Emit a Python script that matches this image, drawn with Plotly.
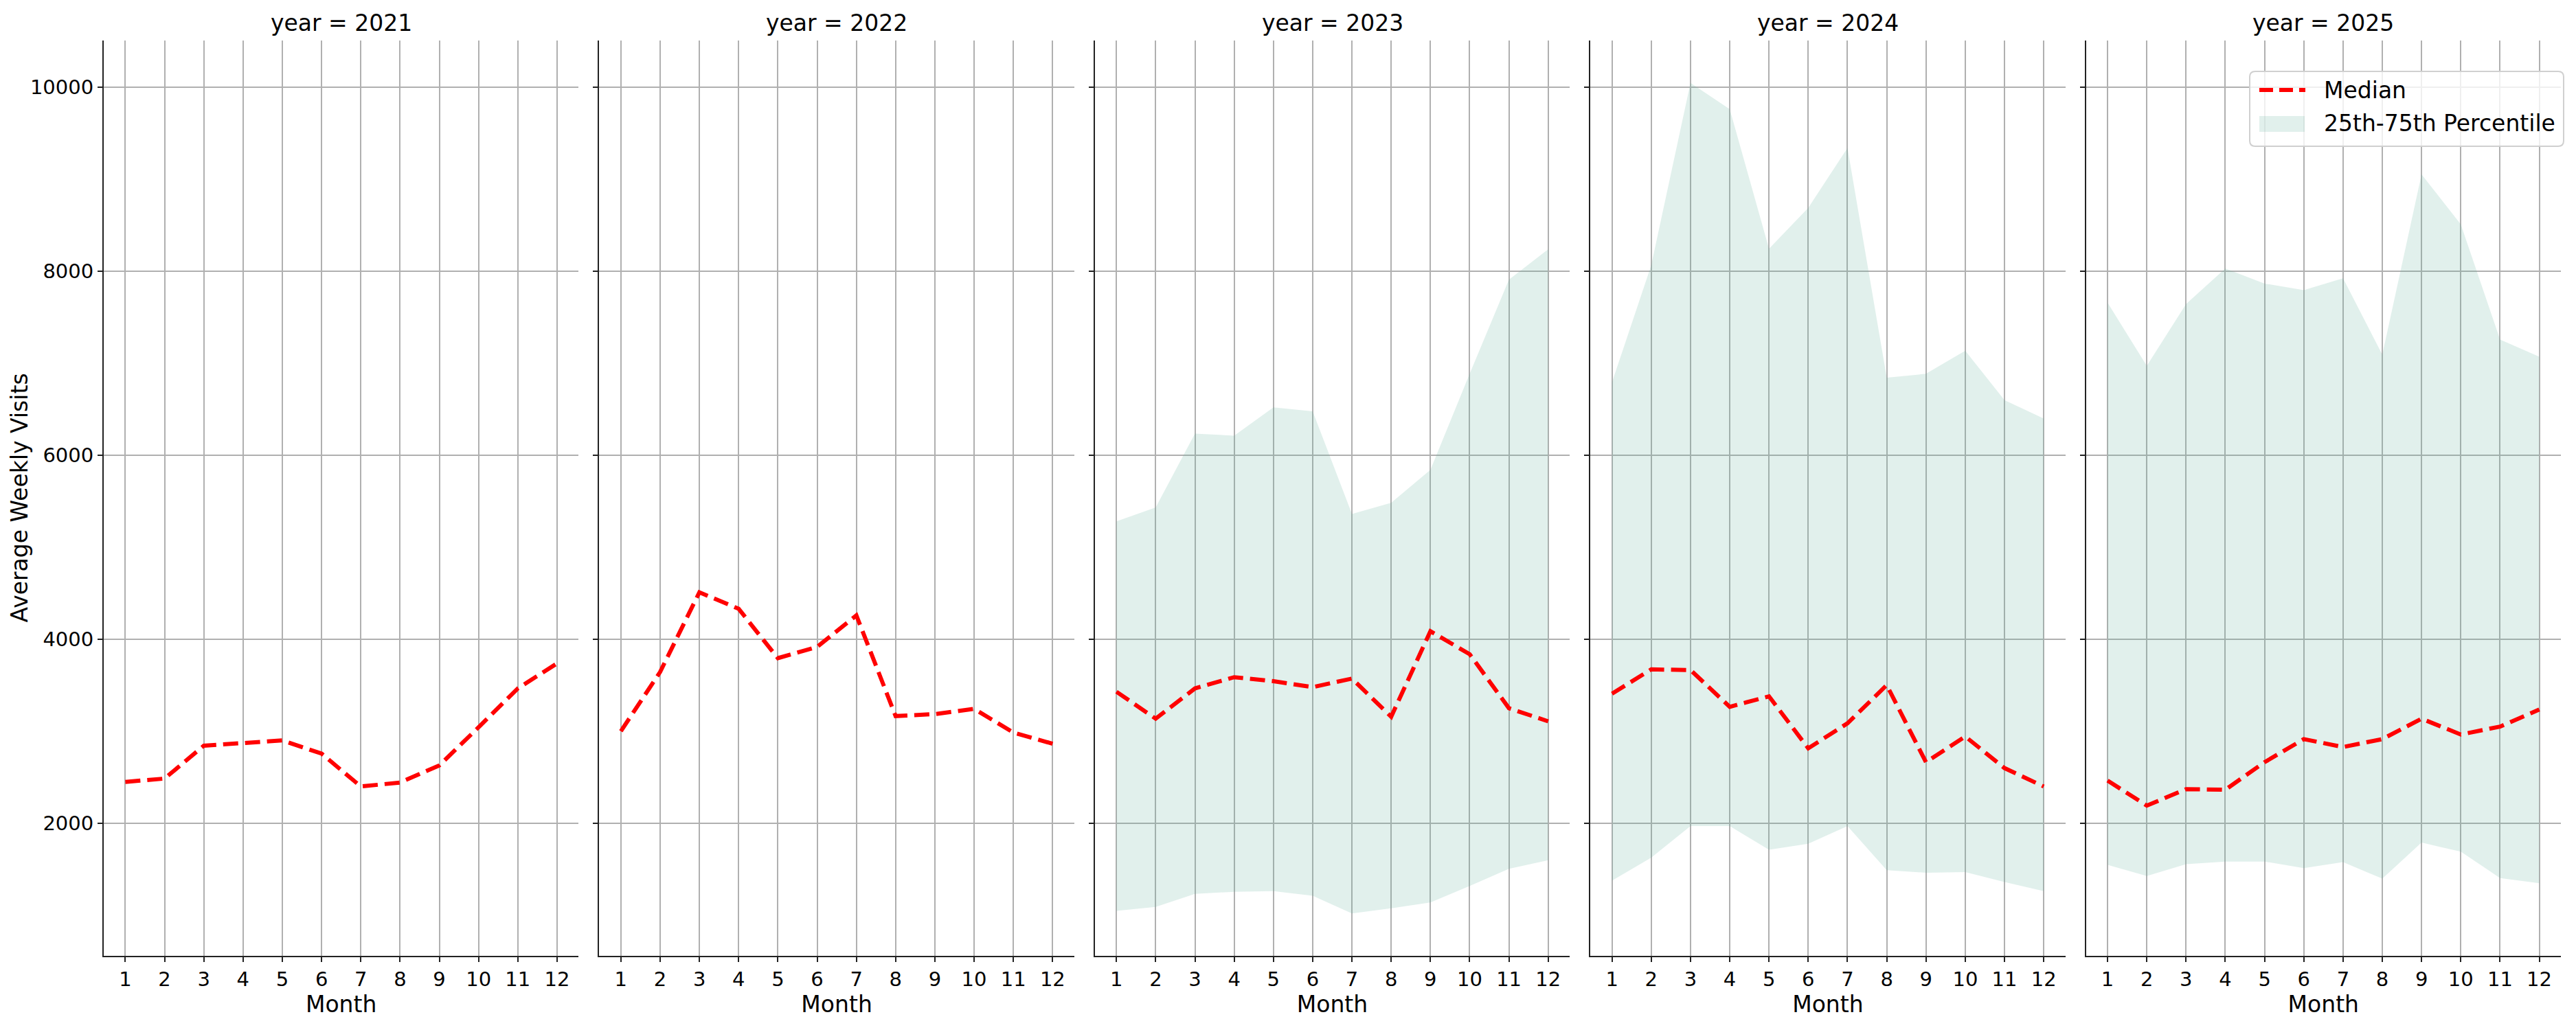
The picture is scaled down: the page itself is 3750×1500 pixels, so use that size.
import plotly.graph_objects as go
from plotly.subplots import make_subplots

# Monthly values
months = list(range(1, 13))
years = [2021, 2022, 2023, 2024, 2025]

median_2021 = [2451, 2487, 2844, 2873, 2902, 2758, 2401, 2444, 2630, 3045, 3467, 3739]
median_2022 = [3002, 3646, 4512, 4333, 3796, 3918, 4261, 3166, 3188, 3245, 2987, 2866]
median_2023 = [3431, 3138, 3467, 3589, 3546, 3481, 3574, 3159, 4089, 3839, 3252, 3109]
median_2024 = [3410, 3674, 3667, 3267, 3381, 2816, 3088, 3503, 2665, 2945, 2601, 2401]
median_2025 = [2465, 2193, 2372, 2365, 2665, 2916, 2830, 2916, 3138, 2966, 3052, 3238]

p75_2023 = [5284, 5435, 6236, 6215, 6522, 6479, 5363, 5485, 5843, 6887, 7911, 8240]
p75_2024 = [6794, 8068, 10050, 9764, 8247, 8691, 9342, 6845, 6887, 7138, 6601, 6401]
p75_2025 = [7660, 6973, 7646, 8032, 7868, 7796, 7925, 7095, 9055, 8512, 7259, 7073]

p25_2023 = [1048, 1091, 1234, 1256, 1263, 1213, 1020, 1077, 1141, 1320, 1506, 1599]
p25_2024 = [1377, 1628, 1971, 1971, 1714, 1778, 1971, 1492, 1463, 1470, 1363, 1263]
p25_2025 = [1549, 1428, 1556, 1585, 1585, 1513, 1578, 1399, 1792, 1692, 1406, 1349]

medians = [median_2021, median_2022, median_2023, median_2024, median_2025]
# 2021 and 2022 have no percentile band
p25 = [None, None, p25_2023, p25_2024, p25_2025]
p75 = [None, None, p75_2023, p75_2024, p75_2025]

FONT = "DejaVu Sans"
band_color = "rgba(105,179,162,0.2)"
median_dash = "22px,10px"

# page body has an 8px margin, so the figure is shrunk by that much
OFF = 8
W, H = 3750 - OFF, 1500 - OFF
L, R, T, B = 151 - OFF, 22, 59 - OFF, 108
PLOT_W = W - L - R
PLOT_H = H - T - B


def px(x):
    # absolute page x pixel -> paper x
    return (x - OFF - L) / PLOT_W


def py(y):
    # absolute page y pixel -> paper y
    return (H - B - (y - OFF)) / PLOT_H


fig = make_subplots(
    rows=1, cols=5, shared_yaxes=True,
    horizontal_spacing=0.0084,
    subplot_titles=[f"year = {y}" for y in years],
)

for i, year in enumerate(years):
    col = i + 1
    if p25[i] is not None:
        fig.add_trace(go.Scatter(
            x=months, y=p25[i], mode="lines",
            line=dict(width=0, color=band_color),
            showlegend=False, hoverinfo="skip",
        ), row=1, col=col)
        fig.add_trace(go.Scatter(
            x=months, y=p75[i], mode="lines",
            line=dict(width=0, color=band_color),
            fill="tonexty", fillcolor=band_color,
            name="25th-75th Percentile", showlegend=False,
        ), row=1, col=col)
    fig.add_trace(go.Scatter(
        x=months, y=medians[i], mode="lines",
        line=dict(color="red", width=6, dash=median_dash),
        name="Median", showlegend=False,
    ), row=1, col=col)

axis_common = dict(
    showline=True, linecolor="#222", linewidth=2,
    ticks="outside", ticklen=7, tickwidth=2, tickcolor="#222",
    showgrid=True, gridcolor="#b0b0b0", gridwidth=1.7,
    zeroline=False,
    tickfont=dict(family=FONT, size=29, color="black"),
)

fig.update_xaxes(
    range=[0.45, 12.55], tickmode="array", tickvals=months,
    title=dict(text="Month", font=dict(family=FONT, size=33, color="black"), standoff=1),
    **axis_common,
)
fig.update_yaxes(
    range=[560, 10510], tickmode="array", tickvals=[2000, 4000, 6000, 8000, 10000],
    tickformat="d", automargin=False,
    **axis_common,
)

for ann in fig.layout.annotations:
    ann.font = dict(family=FONT, size=33, color="black")
    ann.yshift = 4

# y axis title as a rotated annotation so the plot area does not move
fig.add_annotation(text="Average Weekly Visits", xref="paper", yref="paper",
                   x=px(28), y=0.5, xanchor="center", yanchor="middle",
                   textangle=-90, showarrow=False, borderpad=0,
                   font=dict(family=FONT, size=33, color="black"))

# legend box drawn by hand (matplotlib style)
x0, x1 = px(3275), px(3732)
yt, yb = py(104), py(213)
rx, ry = 8 / PLOT_W, 8 / PLOT_H
box = (f"M {x0+rx},{yb} L {x1-rx},{yb} Q {x1},{yb} {x1},{yb+ry} "
       f"L {x1},{yt-ry} Q {x1},{yt} {x1-rx},{yt} L {x0+rx},{yt} "
       f"Q {x0},{yt} {x0},{yt-ry} L {x0},{yb+ry} Q {x0},{yb} {x0+rx},{yb} Z")
fig.add_shape(type="path", path=box, xref="paper", yref="paper",
              fillcolor="rgba(255,255,255,0.8)", line=dict(color="#d0d0d0", width=2))
fig.add_shape(type="line", xref="paper", yref="paper",
              x0=px(3289), x1=px(3356), y0=py(131), y1=py(131),
              line=dict(color="red", width=6, dash="20px,9px"))
fig.add_shape(type="rect", xref="paper", yref="paper",
              x0=px(3289), x1=px(3355), y0=py(192), y1=py(169),
              fillcolor=band_color, line=dict(width=0))
for label, ypix in [("Median", 131), ("25th-75th Percentile", 180)]:
    fig.add_annotation(text=label, xref="paper", yref="paper",
                       x=px(3381), y=py(ypix), xanchor="left", yanchor="middle",
                       showarrow=False, font=dict(family=FONT, size=33, color="black"))

fig.update_layout(
    width=W, height=H,
    margin=dict(l=L, r=R, t=T, b=B),
    plot_bgcolor="white", paper_bgcolor="white",
    font=dict(family=FONT, color="black"),
    showlegend=False,
)

fig.write_html("out.html")
